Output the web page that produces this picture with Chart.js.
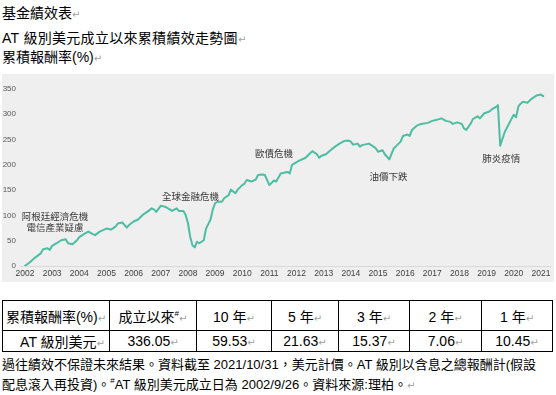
<!DOCTYPE html>
<html>
<head>
<meta charset="utf-8">
<script src="https://cdn.jsdelivr.net/npm/chart.js@4/dist/chart.umd.min.js"></script>
<style>
  html,body{margin:0;padding:0;background:#fff;}
  body{width:556px;height:395px;position:relative;overflow:hidden;
       font-family:"Liberation Sans","Noto Sans CJK TC",sans-serif;color:#000;}
  .t{position:absolute;left:2px;font-size:14px;line-height:20px;white-space:nowrap;}
  .pm{color:#a0a0a0;font-family:"DejaVu Sans",sans-serif;font-size:10px;}
  #panel{position:absolute;left:2px;top:74px;width:552px;height:208px;background:#efefef;}
  table{position:absolute;left:2px;top:300px;border-collapse:collapse;table-layout:fixed;width:550px;}
  td{border:1px solid #000;padding:0;text-align:center;font-size:14px;white-space:nowrap;overflow:hidden;}
  tr.h td{height:29px;}
  tr.d td{height:18px;}
  sup{font-size:8px;vertical-align:6px;line-height:0;}
  .fn{position:absolute;left:2px;font-size:13px;line-height:18px;white-space:nowrap;}
</style>
</head>
<body>
<div class="t" style="top:3px;">基金績效表<span class="pm">↵</span></div>
<div class="t" style="top:28px;letter-spacing:0.3px;">AT 級別美元成立以來累積績效走勢圖<span class="pm">↵</span></div>
<div class="t" style="top:47px;">累積報酬率(%)<span class="pm">↵</span></div>

<div id="panel"><canvas id="c" width="552" height="208"></canvas></div>

<table>
  <colgroup>
    <col style="width:107px"><col style="width:87px"><col style="width:75px"><col style="width:67px">
    <col style="width:71px"><col style="width:72px"><col style="width:71px">
  </colgroup>
  <tr class="h" id="hrow"></tr>
  <tr class="d" id="drow"></tr>
</table>

<div class="fn" style="top:356px;">過往績效不保證未來結果。資料截至 2021/10/31，美元計價。AT 級別以含息之總報酬計(假設</div>
<div class="fn" style="top:376px;">配息滾入再投資)。<sup>#</sup>AT 級別美元成立日為 2002/9/26。資料來源:理柏。<span class="pm">↵</span></div>

<script>
// ---- data ----
// months since fund inception (2002/09)
const months = [0,2,4,7,8,10,11,12,14,16,18,19,21,23,24,26,28,30,31,33,36,38,40,41,43,45,46,48,50,52,
  54,56,57,58,60,62,64,65,67,68,70,71,72,73,74,75,76,77,79,80,82,83,84,85,87,88,90,91,93,94,
  96,97,98,100,102,103,105,106,108,110,111,113,116,117,118,121,124,126,127,129,130,131,133,135,137,139,141,143,144,145,
  147,148,149,152,153,155,156,158,159,160,161,163,164,166,167,169,170,171,173,175,178,180,182,184,186,188,189,191,193,194,
  195,197,198,200,201,203,205,207,208,209,210,212,215,216,217,218,219,220,222,224,226,228,229];
const values = [0,7,15,25,33,35,32,40,45,51,53,45,43,51,57,63,68,63,61,68,74,72,78,84,86,76,81,88,92,101,
  107,114,112,107,119,117,112,109,114,109,109,101,85,58,41,37,48,45,51,74,92,112,124,127,127,134,140,151,144,151,
  160,163,170,167,171,180,181,180,160,169,167,183,186,183,200,208,214,223,227,221,214,218,221,229,236,242,247,248,246,240,
  242,236,239,242,239,233,226,229,221,216,211,233,237,246,257,260,257,269,277,281,283,287,289,292,287,285,281,284,281,272,
  269,282,291,296,292,302,305,312,314,318,238,265,291,299,294,315,321,325,323,331,337,339,336];
const yearLabels = [2002,2003,2004,2005,2006,2007,2008,2009,2010,2011,2012,2013,2014,2015,2016,2017,2018,2019,2020,2021];
const yTicks = [0,50,100,150,200,250,300,350];
const eventText  = ['阿根廷經濟危機','電信產業疑慮','全球金融危機','歐債危機','油價下跌','肺炎疫情'];
const eventMonth = [13.3,13.3,73.1,110,160.6,210.5];
const eventValue = [98,77,138,223,178,213];

const tableHeader = ['累積報酬率(%)','成立以來#','10 年','5 年','3 年','2 年','1 年'];
const tableRow    = ['AT 級別美元','336.05','59.53','21.63','15.37','7.06','10.45'];

// ---- table ----
const pm = '<span class="pm">↵</span>';
document.getElementById('hrow').innerHTML = tableHeader.map(h =>
  '<td>' + h.replace('#','<sup>#</sup>') + pm + '</td>').join('');
document.getElementById('drow').innerHTML = tableRow.map((v,i) =>
  '<td' + (i===0 ? ' style="text-align:right;padding-right:4px"' : '') + '>' + v + pm + '</td>').join('');

// ---- chart ----
const eventLabels = {
  id:'eventLabels',
  afterDatasetsDraw(chart){
    const {ctx, scales:{x,y}} = chart;
    ctx.save();
    ctx.font = '9.5px "Noto Sans CJK TC"';
    ctx.fillStyle = '#3a3a3a';
    ctx.textAlign = 'center';
    ctx.textBaseline = 'middle';
    eventText.forEach((t,i) => ctx.fillText(t, x.getPixelForValue(eventMonth[i]), y.getPixelForValue(eventValue[i])));
    ctx.restore();
  }
};

new Chart(document.getElementById('c'), {
  type:'line',
  data:{datasets:[{
    data: months.map((m,i)=>({x:m, y:values[i]})),
    borderColor:'#4dbda3', borderWidth:2, pointRadius:0, tension:0, fill:false,
    borderJoinStyle:'round', borderCapStyle:'round'
  }]},
  options:{
    responsive:false, animation:false,
    layout:{padding:{top:15,right:4,left:0,bottom:0}},
    plugins:{legend:{display:false}, tooltip:{enabled:false}},
    scales:{
      x:{
        type:'linear', min:-2.2, max:232,
        grid:{display:false, drawTicks:false, tickLength:0},
        border:{display:true, color:'#d9d9d9', width:1},
        afterBuildTicks: s => { s.ticks = yearLabels.map((_,i)=>({value:i*12})); },
        afterFit: s => { s.height = 16; },
        ticks:{autoSkip:false, maxRotation:0, minRotation:0, padding:3,
               color:'#404040', font:{size:8.5, family:'Liberation Sans'},
               callback: v => yearLabels[Math.round(v/12)]}
      },
      y:{
        min:0, max:350,
        grid:{display:false, drawTicks:false, tickLength:0},
        border:{display:false},
        afterBuildTicks: s => { s.ticks = yTicks.map(v=>({value:v})); },
        afterFit: s => { s.width = 18; },
        ticks:{padding:4, color:'#595959', font:{size:8, family:'Liberation Sans'}}
      }
    }
  },
  plugins:[eventLabels]
});
</script>
</body>
</html>
